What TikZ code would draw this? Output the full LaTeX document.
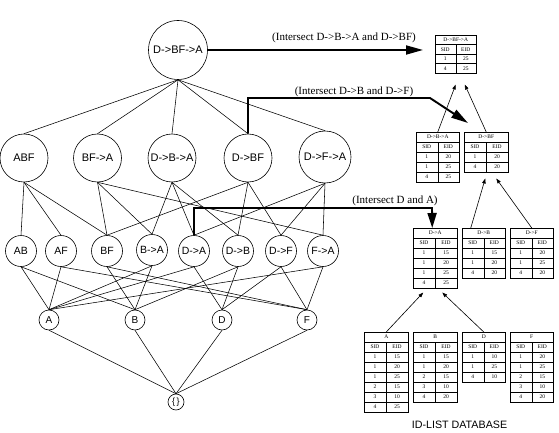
\documentclass[tikz,border=0pt]{standalone}
\usepackage{fontspec}
\setmainfont{Liberation Serif}
\newfontfamily\hvfont{Liberation Sans}
\usetikzlibrary{arrows.meta,calc}
\tikzset{
  lat/.style={draw, circle, line width=0.6pt, inner sep=0pt, font=\hvfont\fontsize{11}{12}\selectfont},
  latA/.style={lat, minimum size=59pt},
  latB/.style={lat, minimum size=48pt},
  latC/.style={lat, minimum size=31pt, font=\hvfont\fontsize{10.5}{12}\selectfont},
  latD/.style={lat, minimum size=20pt, font=\hvfont\fontsize{10}{12}\selectfont},
  latE/.style={lat, minimum size=16pt, font=\hvfont\fontsize{9}{10}\selectfont},
  edge/.style={line width=0.55pt},
  bigarrow/.style={line width=1.9pt, line join=miter, -{Triangle[length=17pt,width=9pt]}},
  smallarrow/.style={line width=0.6pt, -{Triangle[length=5pt,width=3.5pt]}},
  tabbox/.style={draw, line width=0.5pt, inner sep=0pt},
  tabline/.style={line width=0.4pt},
  tabtxt/.style={inner sep=0pt, font=\fontsize{5.5}{6}\selectfont},
  lbl/.style={inner sep=0pt, font=\fontsize{11}{13}\selectfont},
  dblbl/.style={inner sep=0pt, font=\hvfont\fontsize{10.7}{13}\selectfont}
}
\newcommand{\idtab}[8]{%
  \pgfmathsetmacro{\tabH}{(#6+2)*#5}%
  \node[tabbox, minimum width=#4pt, minimum height=\tabH pt, anchor=north west] (#1) at (#2,#3) {};
  \node[tabtxt] (#1-title) at ($(#1.north)+(0,#5/2)$) {#7};
  \draw[tabline] ($(#1.north west)+(0,#5)$) -- ($(#1.north east)+(0,#5)$);
  \draw[tabline] ($(#1.north)+(0,#5)$) -- (#1.south);
  \node[tabtxt] (#1-sid) at ($(#1.north west)+(#4/4,1.5*#5)$) {SID};
  \node[tabtxt] (#1-eid) at ($(#1.north west)+(3*#4/4,1.5*#5)$) {EID};
  \foreach \s/\e [count=\i] in {#8} {
    \draw[tabline] ($(#1.north west)+(0,\i*#5+#5)$) -- ++(#4,0);
    \node[tabtxt] (#1-s\i) at ($(#1.north west)+(#4/4,\i*#5+1.5*#5)$) {\s};
    \node[tabtxt] (#1-e\i) at ($(#1.north west)+(3*#4/4,\i*#5+1.5*#5)$) {\e};
  }%
}
\begin{document}
\begin{tikzpicture}[x=1pt,y=-1pt]
\useasboundingbox (0,0) rectangle (559,433);
% lattice nodes
\node[latA] (top) at (178,50) {D->BF->A};
\node[latB] (ABF) at (24,158) {ABF};
\node[latB] (BFA) at (97.5,158) {BF->A};
\node[latB] (DBA) at (172,158) {D->B->A};
\node[latB] (DBF) at (248,158) {D->BF};
\node[latB, minimum size=52pt] (DFA) at (325,157) {D->F->A};
\node[latC] (AB) at (21,251) {AB};
\node[latC] (AF) at (61,251) {AF};
\node[latC] (BF) at (107,251) {BF};
\node[latC] (BA) at (152,250) {B->A};
\node[latC] (DA) at (194,251) {D->A};
\node[latC] (DB) at (238,251) {D->B};
\node[latC] (DF) at (281,251) {D->F};
\node[latC] (FA) at (323,251) {F->A};
\node[latD] (A) at (49,320) {A};
\node[latD] (B) at (135,320) {B};
\node[latD] (D) at (222,320) {D};
\node[latD] (F) at (307,320) {F};
\node[latE] (E) at (176,402) {\{\,\}};
% lattice edges
\foreach \c in {ABF,BFA,DBA,DBF,DFA} \draw[edge] (top.south) -- (\c.north);
\foreach \p/\c in {ABF/AB,ABF/AF,ABF/BF,BFA/BF,BFA/BA,BFA/FA,DBA/BA,DBA/DA,DBA/DB,DBF/BF,DBF/DB,DBF/DF,DFA/DA,DFA/DF,DFA/FA}
  \draw[edge] (\p.south) -- (\c.north);
\foreach \p/\c in {AB/A,AB/B,AF/A,AF/F,BF/B,BF/F,BA/A,BA/B,DA/A,DA/D,DB/B,DB/D,DF/D,DF/F,FA/A,FA/F}
  \draw[edge] (\p.south) -- (\c.north);
\foreach \p in {A,B,D,F} \draw[edge] (\p.south) -- (E.north);
% id-lists
\idtab{tTop}{435}{35}{41}{9.5}{2}{D->BF->A}{1/25,4/25}
\idtab{tDBA}{416}{132}{43}{10}{3}{D->B->A}{1/20,1/25,4/25}
\idtab{tDBF}{464}{132}{44}{10}{2}{D->BF}{1/20,4/20}
\idtab{tDA}{413}{228}{44}{10}{4}{D->A}{1/15,1/20,1/25,4/25}
\idtab{tDB}{462}{228}{43}{10}{3}{D->B}{1/15,1/20,4/20}
\idtab{tDF}{510}{228}{43}{10}{3}{D->F}{1/20,1/25,4/20}
\idtab{tA}{364}{332}{44}{10}{6}{A}{1/15,1/20,1/25,2/15,3/10,4/25}
\idtab{tB}{413}{332}{44}{10}{5}{B}{1/15,1/20,2/15,3/10,4/20}
\idtab{tD}{462}{332}{43}{10}{3}{D}{1/10,1/25,4/10}
\idtab{tF}{510}{332}{43}{10}{5}{F}{1/20,1/25,2/15,3/10,4/20}
% id-list joins
\draw[smallarrow] (tA.north) -- ($(tDA.south)+(-12,4)$);
\draw[smallarrow] (tD.north) -- ($(tDA.south)+(7,4)$);
\draw[smallarrow] ($(tDB.north)+(-13,0)$) -- ($(tDBF.south)+(-1,6)$);
\draw[smallarrow] (tDF.north) -- ($(tDBF.south)+(10,6)$);
\draw[smallarrow] (tDBA.north) -- ($(tTop.south)+(0,11)$);
\draw[smallarrow] (tDBF.north) -- ($(tTop.south)+(9,11)$);
% intersect arrows
\draw[bigarrow] (top.east) -- ($(top.east -| tTop.west)+(-12,0)$);
\coordinate (k2) at (430,98);
\draw[bigarrow] (DBF.north) |- (k2) -- ($(tDBF.north west)+(4,-9)$);
\coordinate (k3) at (432,208);
\draw[bigarrow, -{Triangle[length=15pt,width=9pt]}] (DA.north) |- (k3) -- ($(tDA.north)+(-3,0)$);
\node[lbl] (l1) at (344,38) {(Intersect D->B->A and D->BF)};
\node[lbl] (l2) at (354,92) {(Intersect D->B and D->F)};
\node[lbl] (l3) at (395,201) {(Intersect D and A)};
\node[dblbl] (db) at (459.5,425) {ID-LIST DATABASE};
\end{tikzpicture}
\end{document}
